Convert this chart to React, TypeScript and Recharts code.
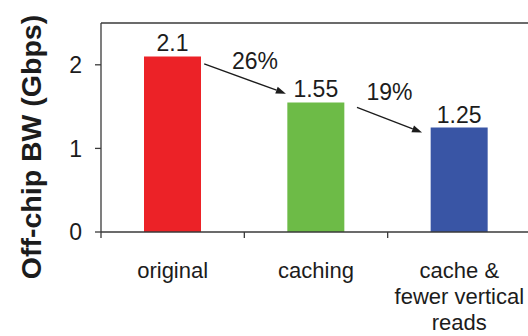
import { BarChart, Bar, XAxis, YAxis, Cell, LabelList, ReferenceLine } from "recharts";

const categories = ["original", "caching", "cache & fewer vertical reads"];
const categoryLines = [["original"], ["caching"], ["cache &", "fewer vertical", "reads"]];
const bandwidthGbps = [2.1, 1.55, 1.25];
const yTicks = [0, 1, 2];
const Y_MAX = 2.5;

const BAR_COLORS = ["#ec2227", "#6dbb47", "#3955a5"];
const AXIS = "#3a3a3a";
const INK = "#1c1c1c";
const FONT = "'Liberation Sans', Arial, Helvetica, sans-serif";

// slot = centre of the category's band on the numeric twin axis
const data = categories.map((name, i) => ({ name, slot: i + 0.5, value: bandwidthGbps[i] }));

// step-to-step reduction, e.g. 2.1 -> 1.55 is 26%
const reductions = bandwidthGbps.slice(1).map((v, i) => {
  const prev = bandwidthGbps[i];
  return { from: i, pct: Math.round(((prev - v) / prev) * 100) };
});

// numeric twin of the category axis: integers are band edges, halves are band centres
const edgeTicks: number[] = [];
for (let t = 0; t <= categories.length * 2; t++) edgeTicks.push(t / 2);

const BAR_HALF = 0.2; // barCategoryGap 30% -> bar spans 40% of a band

// arrow endpoints nudged off the bar corners (data units), text offset in px
const ARROW_LAYOUT = [
  { start: [0.02, -0.09], end: [-0.01, 0.105], text: [10, -10] },
  { start: [0.086, -0.06], end: [-0.06, -0.06], text: [0, -20] },
];

function BottomTick(props: any) {
  const { x, y, payload } = props;
  const v = payload.value as number;
  if (Number.isInteger(v)) {
    return <line x1={x} x2={x} y1={y} y2={y + 6} stroke={AXIS} strokeWidth={1.3} />;
  }
  const lines = categoryLines[Math.floor(v)] || [];
  return (
    <text x={x} y={y + 46} textAnchor="middle" fontSize={22} fill={INK} fontFamily={FONT}>
      {lines.map((l, i) => (
        <tspan key={i} x={x} dy={i === 0 ? 0 : 26}>
          {l}
        </tspan>
      ))}
    </text>
  );
}

function renderYTitle() {
  return (
    <text
      transform="translate(31,147) rotate(-90)"
      textAnchor="middle"
      dominantBaseline="central"
      fontSize={28.5}
      fontWeight="bold"
      fill={INK}
      fontFamily={FONT}
    >
      Off-chip BW (Gbps)
    </text>
  );
}

function makeArrow(label: string, textOffset: number[]) {
  return (p: any) => {
    const { x1, y1, x2, y2 } = p;
    const ang = Math.atan2(y2 - y1, x2 - x1);
    const len = 10;
    const half = 3.6;
    const bx = x2 - len * Math.cos(ang);
    const by = y2 - len * Math.sin(ang);
    const nx = -Math.sin(ang) * half;
    const ny = Math.cos(ang) * half;
    const mx = (x1 + x2) / 2 + textOffset[0];
    const my = (y1 + y2) / 2 + textOffset[1];
    return (
      <g>
        <line x1={x1} y1={y1} x2={bx} y2={by} stroke={INK} strokeWidth={1.3} />
        <polygon points={`${x2},${y2} ${bx + nx},${by + ny} ${bx - nx},${by - ny}`} fill={INK} />
        <text x={mx} y={my} textAnchor="middle" fontSize={23} fill={INK} fontFamily={FONT}>
          {label}
        </text>
      </g>
    );
  };
}

export default function App() {
  return (
    <div
      style={{
        position: "absolute",
        left: 0,
        top: 0,
        width: 528,
        height: 336,
        overflow: "hidden",
        background: "#fff",
        fontFamily: FONT,
      }}
    >
      <BarChart
        width={540}
        height={336}
        data={data}
        margin={{ top: 23, right: 9, bottom: 0, left: 0 }}
        barCategoryGap="30%"
      >
        <XAxis dataKey="name" hide height={0} />
        <XAxis
          xAxisId="num"
          dataKey="slot"
          type="number"
          domain={[0, categories.length]}
          allowDataOverflow
          ticks={edgeTicks}
          interval={0}
          height={104}
          tickSize={0}
          tickMargin={0}
          tickLine={false}
          axisLine={{ stroke: AXIS, strokeWidth: 1.3 }}
          tick={<BottomTick />}
        />
        <YAxis
          domain={[0, Y_MAX]}
          allowDataOverflow
          ticks={yTicks}
          width={101}
          tickSize={6}
          tickMargin={13}
          tick={{ fontSize: 23, fill: INK, fontFamily: FONT }}
          axisLine={{ stroke: AXIS, strokeWidth: 1.3 }}
          tickLine={{ stroke: AXIS, strokeWidth: 1.3 }}
          label={renderYTitle}
        />
        {/* top edge of the plot frame */}
        <ReferenceLine y={Y_MAX} stroke={AXIS} strokeWidth={1.3} ifOverflow="visible" />
        <Bar dataKey="value" isAnimationActive={false}>
          {data.map((d, i) => (
            <Cell key={d.name} fill={BAR_COLORS[i]} />
          ))}
          <LabelList
            dataKey="value"
            position="top"
            offset={5}
            fontSize={23}
            fill={INK}
            fontFamily={FONT}
          />
        </Bar>
        {reductions.map((r, k) => {
          const lay = ARROW_LAYOUT[k];
          const i = r.from;
          const start = { x: i + 0.5 + BAR_HALF + lay.start[0], y: bandwidthGbps[i] + lay.start[1] };
          const end = {
            x: i + 1.5 - BAR_HALF + lay.end[0],
            y: bandwidthGbps[i + 1] + lay.end[1],
          };
          return (
            <ReferenceLine
              key={k}
              xAxisId="num"
              segment={[start, end]}
              ifOverflow="visible"
              shape={makeArrow(`${r.pct}%`, lay.text)}
            />
          );
        })}
      </BarChart>
    </div>
  );
}
